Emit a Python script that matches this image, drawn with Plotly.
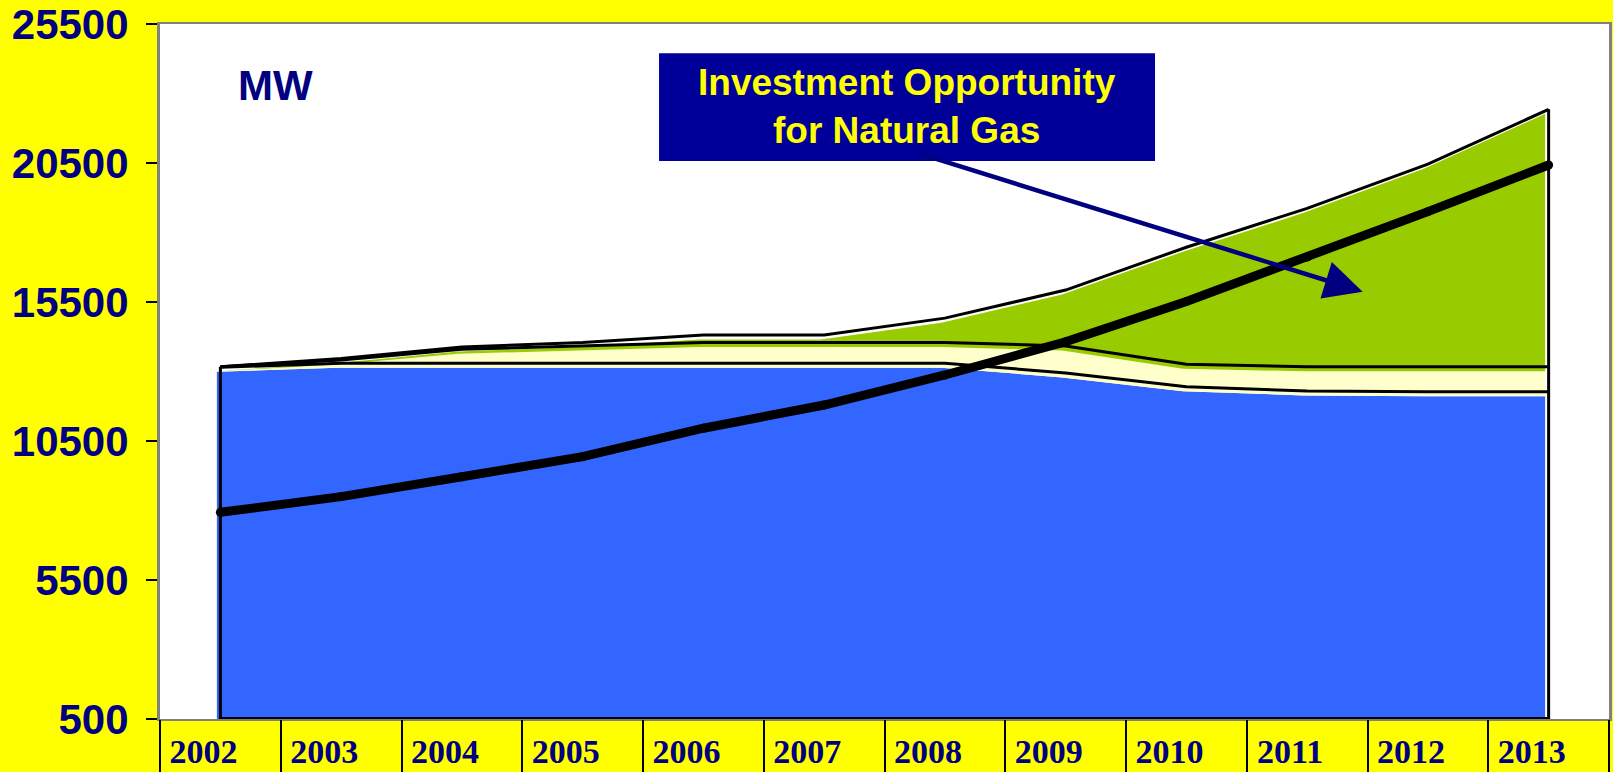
import plotly.graph_objects as go

years = ['2002', '2003', '2004', '2005', '2006', '2007', '2008', '2009', '2010', '2011', '2012', '2013']
existing = [13150, 13300, 13300, 13300, 13300, 13300, 13300, 12950, 12450, 12300, 12270, 12270]
committed = [20, 110, 500, 620, 740, 740, 740, 970, 810, 870, 900, 900]
opportunity = [0, 60, 85, 120, 275, 275, 880, 2010, 4210, 5700, 7290, 9260]
demand = [7935, 8500, 9215, 9935, 10960, 11795, 12875, 14070, 15520, 17120, 18750, 20430]
y_ticks = [500, 5500, 10500, 15500, 20500, 25500]

NAVY = '#000080'
Y_MIN, Y_MAX = 500, 25500
total = [a + b + c for a, b, c in zip(existing, committed, opportunity)]

fig = go.Figure()

# filled areas (drawn slightly offset, as in the original rendering)
for vals, col in [(existing, '#3366FF'), (committed, '#FFFFCC'), (opportunity, '#99CC00')]:
    fig.add_trace(go.Scatter(x=years, y=vals, stackgroup='fill', mode='lines',
                             line=dict(width=0, color=col), fillcolor=col,
                             hoverinfo='skip', showlegend=False, xaxis='x', yaxis='y'))

# outlines
for vals in [existing, committed, opportunity]:
    fig.add_trace(go.Scatter(x=years, y=vals, stackgroup='outline', fill='none', mode='lines',
                             line=dict(width=3, color='black'),
                             hoverinfo='skip', showlegend=False, xaxis='x2', yaxis='y2'))
for i in [0, len(years) - 1]:
    fig.add_trace(go.Scatter(x=[years[i], years[i]], y=[Y_MIN, total[i]], mode='lines',
                             line=dict(width=3, color='black'), showlegend=False,
                             hoverinfo='skip', xaxis='x2', yaxis='y2'))
fig.add_trace(go.Scatter(x=[years[0], years[-1]], y=[Y_MIN, Y_MIN], mode='lines',
                         line=dict(width=4, color='black'), showlegend=False,
                         hoverinfo='skip', xaxis='x2', yaxis='y2'))

# demand line
fig.add_trace(go.Scatter(x=years, y=demand, mode='lines+markers',
                         line=dict(width=9, color='black'),
                         marker=dict(size=9, color='black'),
                         showlegend=False, hoverinfo='skip', xaxis='x2', yaxis='y2'))

# dummy for separator axis
fig.add_trace(go.Scatter(x=[], y=[], xaxis='x3', yaxis='y2', showlegend=False))

n = len(years)
dx = 0.029   # ~3.5 px
dy = 162     # ~4.5 px

fig.update_layout(
    width=1613, height=772, autosize=False,
    paper_bgcolor='#FFFF00', plot_bgcolor='white',
    margin=dict(l=160, r=4, t=24, b=53),
    xaxis=dict(type='category', range=[-0.5 + dx, n - 0.5 + dx], visible=False, automargin=False),
    yaxis=dict(range=[Y_MIN + dy, Y_MAX + dy], visible=False, automargin=False),
    xaxis2=dict(type='category', overlaying='x', anchor='y2', range=[-0.5, n - 0.5],
                showline=True, linecolor='#808080', linewidth=2, mirror=True,
                ticks='', showgrid=False, zeroline=False, automargin=False,
                tickfont=dict(family='Liberation Serif', size=34, color=NAVY, weight='bold'),
                ticklabelshift=-17, ticklabelstandoff=1),
    yaxis2=dict(overlaying='y', anchor='x2', range=[Y_MIN, Y_MAX], tickvals=y_ticks,
                ticktext=[str(v) for v in y_ticks],
                showline=True, linecolor='#808080', linewidth=3, mirror=True,
                ticks='outside', ticklen=11, tickwidth=1.5, tickcolor='black',
                showgrid=False, zeroline=False, automargin=False, ticklabelstandoff=9,
                tickfont=dict(family='Liberation Sans', size=42, color=NAVY, weight='bold')),
    xaxis3=dict(overlaying='x', anchor='y2', range=[-0.5, n - 0.5],
                tickvals=[i - 0.5 for i in range(n + 1)], ticks='outside', ticklen=53,
                tickwidth=1.5, tickcolor='black', showticklabels=False, automargin=False,
                showgrid=False, zeroline=False, showline=False),
)

# label box
fig.add_shape(type='rect', xref='paper', yref='paper', x0=0.3444, x1=0.6867, y0=0.803, y1=0.958,
              fillcolor='#000099', line=dict(width=0), layer='above')
fig.add_annotation(xref='paper', yref='paper', x=0.5152, y=0.8806, xanchor='center', yanchor='middle',
                   text='Investment Opportunity<br>for Natural Gas', showarrow=False,
                   font=dict(family='Liberation Sans', size=37, color='#FFFF00', weight='bold'),
                   align='center')
fig.add_annotation(xref='paper', yref='paper', x=0.080, y=0.912, xanchor='center', yanchor='middle',
                   text='MW', showarrow=False,
                   font=dict(family='Liberation Sans', size=42, color=NAVY, weight='bold'))
# arrow
fig.add_annotation(xref='x2', yref='y2', axref='x2', ayref='y2',
                   x=9.46, y=15870, ax=5.77, ay=20860, text='', showarrow=True,
                   arrowhead=2, arrowsize=1.7, arrowwidth=4.5, arrowcolor=NAVY)

fig.write_html('out.html', config={'displayModeBar': False},
               post_script="document.body.style.margin='0';document.body.style.overflow='hidden';")
